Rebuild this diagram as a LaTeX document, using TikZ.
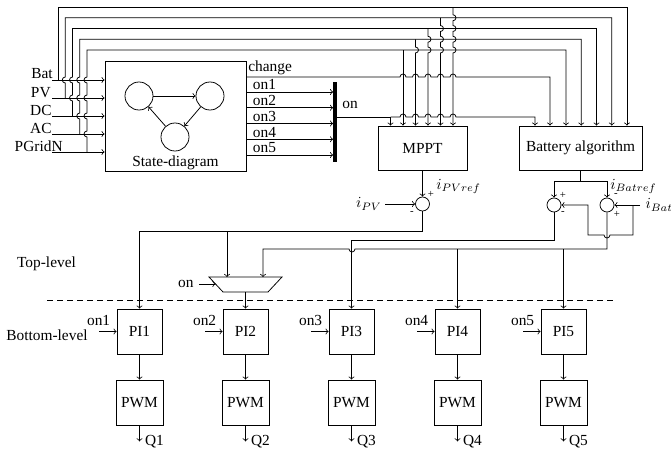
\documentclass[tikz,border=0pt]{standalone}
\usepackage{fontspec}
\setmainfont{Liberation Serif}

\begin{document}
\begin{tikzpicture}[x=.65pt,y=-.65pt,line width=.5pt,
    block/.style={draw,inner sep=0pt},
    sumpt/.style={draw,circle,inner sep=0pt,minimum size=9.1pt},
    state/.style={draw,circle,inner sep=0pt,minimum size=18.2pt},
    sgn/.style={font=\scriptsize,inner sep=0pt}]
\useasboundingbox (0,0) rectangle (671,452);

% state machine
\node[block,minimum width=91.65pt,minimum height=71.5pt] (sd) at (175.5,116) {};
\node[above,inner sep=1pt] (sdlbl) at (sd.south) {State-diagram};
\node[state] (c1) at (139,96) {};
\node[state] (c2) at (210,96) {};
\node[state] (c3) at (175,137) {};
\draw[->] (c1) -- (c2);
\draw[->] (c2) -- (c3);
\draw[->] (c3) -- (c1);

% inputs
\node[anchor=base east,inner sep=0pt] (lbat) at (53,79) {Bat};
\node[anchor=base east,inner sep=0pt] (lpv) at (51,97) {PV};
\node[anchor=base east,inner sep=0pt] (ldc) at (52,115) {DC};
\node[anchor=base east,inner sep=0pt] (lac) at (52,133) {AC};
\node[anchor=base east,inner sep=0pt] (lgrid) at (63,151) {PGridN};
\draw[->] (52,80) -- (sd.west |- 0,80);
\draw[->] (52,98) -- (sd.west |- 0,98);
\draw[->] (52,116) -- (sd.west |- 0,116);
\draw[->] (52,134) -- (sd.west |- 0,134);
\draw[->] (52,152) -- (sd.west |- 0,152);

% MPPT and battery
\node[block,minimum width=57.85pt,minimum height=28.6pt] (mppt) at (422.5,148) {MPPT};
\node[block,minimum width=79.95pt,minimum height=28.6pt] (bat) at (580.5,148) {Battery algorithm};

% feed back loops over the top
\draw[->] (58,80) -- (58,7) -| (627,0 |- bat.north);
\draw[->] (65.25,98) -- (65.25,83) arc[start angle=90,end angle=270,radius=3] -- (65.25,17.75) -| (611.75,0 |- bat.north);
\draw[->] (72.5,116) -- (72.5,101) arc[start angle=90,end angle=270,radius=3] -- (72.5,83) arc[start angle=90,end angle=270,radius=3] -- (72.5,28.5) -| (596.5,0 |- bat.north);
\draw[->] (79.75,134) -- (79.75,119) arc[start angle=90,end angle=270,radius=3] -- (79.75,101) arc[start angle=90,end angle=270,radius=3] -- (79.75,83) arc[start angle=90,end angle=270,radius=3] -- (79.75,39.25) -| (581.25,0 |- bat.north);
\draw[->] (87,152) -- (87,137) arc[start angle=90,end angle=270,radius=3] -- (87,119) arc[start angle=90,end angle=270,radius=3] -- (87,101) arc[start angle=90,end angle=270,radius=3] -- (87,83) arc[start angle=90,end angle=270,radius=3] -- (87,50) -| (566,0 |- bat.north);

% down into MPPT
\draw[->] (453,7) -- (453,14.75) arc[start angle=-90,end angle=90,radius=3] -- (453,25.5) arc[start angle=-90,end angle=90,radius=3] -- (453,36.25) arc[start angle=-90,end angle=90,radius=3] -- (453,47) arc[start angle=-90,end angle=90,radius=3] -- (453,0 |- mppt.north);
\draw[->] (440.5,17.75) -- (440.5,25.5) arc[start angle=-90,end angle=90,radius=3] -- (440.5,36.25) arc[start angle=-90,end angle=90,radius=3] -- (440.5,47) arc[start angle=-90,end angle=90,radius=3] -- (440.5,0 |- mppt.north);
\draw[->] (428,28.5) -- (428,36.25) arc[start angle=-90,end angle=90,radius=3] -- (428,47) arc[start angle=-90,end angle=90,radius=3] -- (428,0 |- mppt.north);
\draw[->] (415.5,39.25) -- (415.5,47) arc[start angle=-90,end angle=90,radius=3] -- (415.5,0 |- mppt.north);
\draw[->] (403,50) -- (403,0 |- mppt.north);

% state outputs
\draw[->] (sd.east |- 0,77) node[anchor=south west,inner sep=1pt]{change} -- (400,77) arc[start angle=180,end angle=360,radius=3] -- (412.5,77) arc[start angle=180,end angle=360,radius=3] -- (425,77) arc[start angle=180,end angle=360,radius=3] -- (437.5,77) arc[start angle=180,end angle=360,radius=3] -- (450,77) arc[start angle=180,end angle=360,radius=3] -| (550,0 |- bat.north);
\node[fill,inner sep=0pt,minimum width=2pt,minimum height=52pt] (bar) at (335,122) {};
\draw[->] (sd.east |- 0,92) node[anchor=south west,inner sep=1pt,xshift=3pt]{on1} -- (bar.west |- 0,92);
\draw[->] (sd.east |- 0,107.75) node[anchor=south west,inner sep=1pt,xshift=3pt]{on2} -- (bar.west |- 0,107.75);
\draw[->] (sd.east |- 0,123.5) node[anchor=south west,inner sep=1pt,xshift=3pt]{on3} -- (bar.west |- 0,123.5);
\draw[->] (sd.east |- 0,139.25) node[anchor=south west,inner sep=1pt,xshift=3pt]{on4} -- (bar.west |- 0,139.25);
\draw[->] (sd.east |- 0,155) node[anchor=south west,inner sep=1pt,xshift=3pt]{on5} -- (bar.west |- 0,155);
\node[anchor=west] (onlbl) at (bar.east |- 0,105) {on};
\draw[->] (bar.east |- 0,117) -| (390.5,0 |- mppt.north);
\draw[->] (390.5,117) -- (400,117) arc[start angle=180,end angle=360,radius=3] -- (412.5,117) arc[start angle=180,end angle=360,radius=3] -- (425,117) arc[start angle=180,end angle=360,radius=3] -- (437.5,117) arc[start angle=180,end angle=360,radius=3] -- (450,117) arc[start angle=180,end angle=360,radius=3] -| (535,0 |- bat.north);

% current references
\node[sumpt] (spv) at (422.5,204) {};
\draw[->] (mppt.south) -- (spv.north);
\node[anchor=base west,inner sep=0pt] (ipvref) at (436,189) {$i_{PVref}$};
\node[anchor=east,inner sep=2pt] (ipv) at (385,204) {$i_{PV}$};
\draw[->] (ipv.east) -- (spv.west);
\node[sgn] at (431,194) {+};
\node[sgn] at (412,213) {-};

\node[sumpt] (sb1) at (554,205) {};
\node[sumpt] (sb2) at (607,205) {};
\coordinate (bsplit) at (580.5,181);
\draw (bat.south) -- (bsplit);
\draw[->] (bsplit) -| (sb1.north);
\draw[->] (bsplit) -| (sb2.north);
\node[anchor=base west,inner sep=0pt] (ibref) at (610,189) {$i_{Batref}$};
\node[anchor=west] (ibat) at (640,205) {$i_{Bat}$};
\draw[->] (ibat.west) -- (sb2.east);
\draw[->] (633,205) |- (610,235) arc[start angle=0,end angle=180,radius=3] -- (588,235) |- (sb1.east);
\node[sgn] at (563,195) {+};
\node[sgn] at (563,213) {-};
\node[sgn] at (616,195) {-};
\node[sgn] at (617,214) {+};

% selector
\draw (209,277) -- (282,277) -- (268,292) -- (223,292) -- cycle;
\node[anchor=east] (monlbl) at (199,284) {on};
\draw[->] (monlbl.east) -- (215.5,284);

% bottom level
\node[block,minimum width=29.25pt,minimum height=29.25pt] (pi1) at (139.5,331.5) {PI1};
\node[block,minimum width=29.25pt,minimum height=29.25pt] (pi2) at (245.5,331.5) {PI2};
\node[block,minimum width=29.25pt,minimum height=29.25pt] (pi3) at (351.5,331.5) {PI3};
\node[block,minimum width=29.25pt,minimum height=29.25pt] (pi4) at (457.5,331.5) {PI4};
\node[block,minimum width=29.25pt,minimum height=29.25pt] (pi5) at (563.5,331.5) {PI5};
\node[block,minimum width=30.55pt,minimum height=29.25pt] (pwm1) at (139.5,402.5) {PWM};
\node[block,minimum width=30.55pt,minimum height=29.25pt] (pwm2) at (245.5,402.5) {PWM};
\node[block,minimum width=30.55pt,minimum height=29.25pt] (pwm3) at (351.5,402.5) {PWM};
\node[block,minimum width=30.55pt,minimum height=29.25pt] (pwm4) at (457.5,402.5) {PWM};
\node[block,minimum width=30.55pt,minimum height=29.25pt] (pwm5) at (563.5,402.5) {PWM};

\draw[->] (spv.south) |- (pi1.north |- 0,231) -- (pi1.north);
\draw[->] (227,231) -- (227,277);
\draw[->] (245.5,292) -- (pi2.north);
\draw[->] (sb1.south) |- (pi3.north |- 0,240) -- (pi3.north);
\draw[->] (sb2.south) |- (355,249) arc[start angle=0,end angle=180,radius=3] -| (263,277);
\draw[->] (pi4.north |- 0,249) -- (pi4.north);
\draw[->] (pi5.north |- 0,249) -- (pi5.north);

\draw[<-] (pi1.west) -- ++(-18,0) node[above]{on1};
\draw[<-] (pi2.west) -- ++(-18,0) node[above]{on2};
\draw[<-] (pi3.west) -- ++(-18,0) node[above]{on3};
\draw[<-] (pi4.west) -- ++(-18,0) node[above]{on4};
\draw[<-] (pi5.west) -- ++(-18,0) node[above]{on5};
\draw[->] (pi1) -- (pwm1);
\draw[->] (pi2) -- (pwm2);
\draw[->] (pi3) -- (pwm3);
\draw[->] (pi4) -- (pwm4);
\draw[->] (pi5) -- (pwm5);
\draw[->] (pwm1.south) -- ++(0,16) node[right]{Q1};
\draw[->] (pwm2.south) -- ++(0,16) node[right]{Q2};
\draw[->] (pwm3.south) -- ++(0,16) node[right]{Q3};
\draw[->] (pwm4.south) -- ++(0,16) node[right]{Q4};
\draw[->] (pwm5.south) -- ++(0,16) node[right]{Q5};

\draw[dashed,dash pattern=on 4pt off 2.5pt] (47,300) -- (617,300);
\node (toplbl) at (46.5,264) {Top-level};
\node (botlbl) at (47,335) {Bottom-level};
\end{tikzpicture}
\end{document}
